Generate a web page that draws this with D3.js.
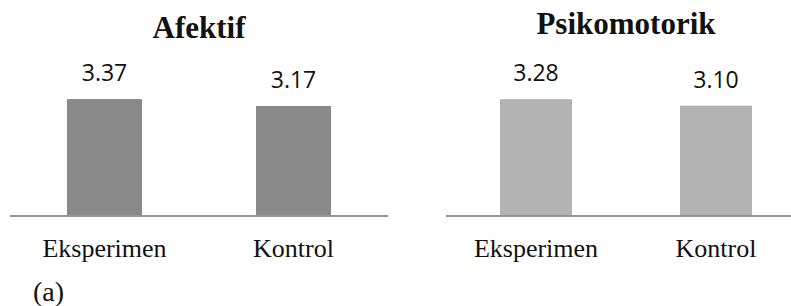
<!DOCTYPE html>
<html>
<head>
<meta charset="utf-8">
<script src="https://cdn.jsdelivr.net/npm/d3@7.9.0/dist/d3.min.js"></script>
<style>
  html, body { margin: 0; padding: 0; background: #fff; }
  svg { display: block; }
</style>
</head>
<body>
<svg id="chart" width="791" height="306"></svg>
<script>
const categories = ['Eksperimen', 'Kontrol'];
const afektifValues = [3.37, 3.17];
const psikomotorValues = [3.28, 3.10];
const panelTitles = ['Afektif', 'Psikomotorik'];

const svg = d3.select('#chart');
const baseline = 216;

const panels = [
  { title: panelTitles[0], values: afektifValues, x0: 10, x1: 388, inner: 0.603, perUnit: 34.7, color: '#898989' },
  { title: panelTitles[1], values: psikomotorValues, x0: 446, x1: 806, inner: 0.6, perUnit: 35.6, color: '#b3b3b3' },
];

panels.forEach((p, pi) => {
  const x = d3.scaleBand()
    .domain(categories)
    .range([p.x0, p.x1])
    .paddingInner(p.inner)
    .paddingOuter(p.inner / 2);

  const y = d3.scaleLinear()
    .domain([0, 4])
    .range([baseline, baseline - 4 * p.perUnit]);

  const g = svg.append('g');

  g.selectAll('rect')
    .data(p.values)
    .join('rect')
    .attr('x', (d, i) => x(categories[i]))
    .attr('y', (d) => y(d))
    .attr('width', x.bandwidth())
    .attr('height', (d) => baseline - y(d))
    .attr('fill', p.color);

  // baseline axis
  const axis = d3.axisBottom(x).tickSize(0).tickPadding(0).tickFormat('');
  const ag = g.append('g')
    .attr('transform', `translate(0,${baseline})`)
    .call(axis);
  ag.select('.domain')
    .attr('d', `M${p.x0},0H${p.x1}`)
    .attr('stroke', '#959595')
    .attr('stroke-width', 2);

  g.selectAll('.cat')
    .data(categories)
    .join('text')
    .attr('class', 'cat')
    .attr('x', (d) => x(d) + x.bandwidth() / 2)
    .attr('y', 256.5)
    .attr('text-anchor', 'middle')
    .attr('font-family', '"Liberation Serif", "Times New Roman", serif')
    .attr('font-size', 26)
    .attr('fill', '#111')
    .text((d) => d);

  g.selectAll('.val')
    .data(p.values)
    .join('text')
    .attr('class', 'val')
    .attr('x', (d, i) => x(categories[i]) + x.bandwidth() / 2)
    .attr('y', (d) => y(d) - 18)
    .attr('text-anchor', 'middle')
    .attr('font-family', '"Open Sans", sans-serif')
    .attr('font-size', 23)
    .attr('fill', '#111')
    .text((d) => d.toFixed(2));

  g.append('text')
    .attr('x', (p.x0 + p.x1) / 2)
    .attr('y', pi === 0 ? 38 : 33.5)
    .attr('text-anchor', 'middle')
    .attr('font-family', '"Liberation Serif", "Times New Roman", serif')
    .attr('font-weight', 'bold')
    .attr('font-size', 31)
    .attr('fill', '#111')
    .text(p.title);
});

svg.append('text')
  .attr('x', 33)
  .attr('y', 301)
  .attr('font-family', '"Liberation Serif", "Times New Roman", serif')
  .attr('font-size', 28)
  .attr('fill', '#111')
  .text('(a)');
</script>
</body>
</html>
